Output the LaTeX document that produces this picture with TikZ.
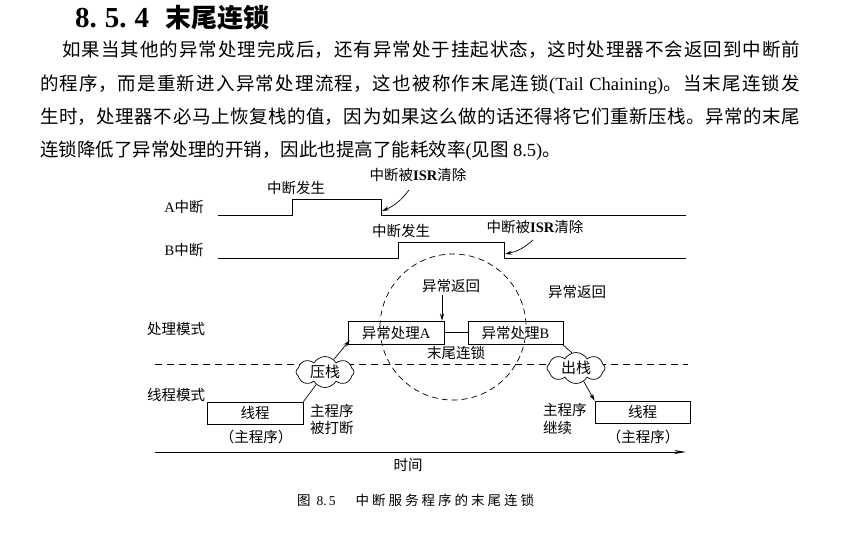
\documentclass[tikz,border=0pt]{standalone}
\usepackage{fontspec}
\setmainfont{Noto Sans CJK SC}
\newfontfamily\lat{Liberation Serif}
\usetikzlibrary{shapes.symbols,arrows.meta}
\tikzset{
  lbl/.style={inner sep=0pt,font=\fontsize{14.5}{17.5}\selectfont},
  sig/.style={line width=0.8pt},
  procbox/.style={draw,line width=0.8pt,minimum height=23pt,inner sep=0pt,font=\fontsize{14.5}{17.5}\selectfont},
  puff/.style={draw,fill=white,cloud,cloud puffs=8,cloud puff arc=120,aspect=1.9,minimum width=58pt,minimum height=31pt,inner sep=0pt,line width=0.7pt,font=\fontsize{15}{18}\selectfont},
  tip/.style={-{Stealth[length=7pt,width=4pt]}},
  conn/.style={line width=0.7pt},
}
\begin{document}
\begin{tikzpicture}[x=1pt,y=-1pt]
\useasboundingbox[fill=white] (0,0) rectangle (845,542);
% heading
\node[anchor=west,inner sep=0pt] (hnum) at (75,18) {\fontsize{29}{32}\selectfont\lat\bfseries 8.\kern8pt 5.\kern8pt 4};
\node[anchor=west,inner sep=0pt] (htitle) at (165,18) {\fontsize{26}{30}\selectfont\bfseries 末尾连锁};
% paragraph
\node[anchor=north west,inner sep=0pt] (para) at (40,41) {\parbox{760pt}{\fontsize{18.5}{33.3}\selectfont
\XeTeXlinebreaklocale "zh"\XeTeXlinebreakskip=0pt plus 3pt minus 0.4pt
\hspace*{22pt}如果当其他的异常处理完成后，还有异常处于挂起状态，这时处理器不会返回到中断前\linebreak
的程序，而是重新进入异常处理流程，这也被称作末尾连锁{\lat (Tail Chaining)}。当末尾连锁发\linebreak
生时，处理器不必马上恢复栈的值，因为如果这么做的话还得将它们重新压栈。异常的末尾\linebreak
连锁降低了异常处理的开销，因此也提高了能耗效率{\lat (}见图 {\lat 8.5)}。}};
% signal A
\coordinate (a0) at (218,215); \coordinate (a1) at (292,215); \coordinate (a2) at (292,199);
\coordinate (a3) at (381,199); \coordinate (a4) at (381,215); \coordinate (a5) at (686,215);
\draw[sig] (a0)--(a1)--(a2)--(a3)--(a4)--(a5);
\node[lbl] (labA) at (184,207) {{\lat A}中断};
\node[lbl] (occA) at (296,188) {中断发生};
\node[lbl] (clrA) at (418,175) {中断被{\lat\bfseries ISR}清除};
\coordinate (arrAs) at (409,190);
\draw[conn,tip] (arrAs) to[bend left=15] ([xshift=1pt,yshift=4pt]a4);
% signal B
\coordinate (b0) at (218,258); \coordinate (b1) at (398,258); \coordinate (b2) at (398,242);
\coordinate (b3) at (504,242); \coordinate (b4) at (504,258); \coordinate (b5) at (686,258);
\draw[sig] (b0)--(b1)--(b2)--(b3)--(b4)--(b5);
\node[lbl] (labB) at (184,250) {{\lat B}中断};
\node[lbl] (occB) at (401,231) {中断发生};
\node[lbl] (clrB) at (535,227) {中断被{\lat\bfseries ISR}清除};
\coordinate (arrBs) at (533,240);
\draw[conn,tip] (arrBs) to[bend left=15] ([xshift=1pt,yshift=4pt]b4);
% dashed circle
\draw[dashed,dash pattern=on 6pt off 4pt,line width=0.7pt] (453,327) circle[radius=73];
% mode labels
\node[lbl] (pmode) at (176,329) {处理模式};
\node[lbl] (tmode) at (176,395) {线程模式};
\draw[dashed,dash pattern=on 7pt off 5pt,line width=0.7pt] (155,364) -- (688,364);
% handler boxes
\node[procbox,minimum width=96pt] (hA) at (396,332.5) {异常处理{\lat A}};
\node[procbox,minimum width=95pt] (hB) at (515.5,332.5) {异常处理{\lat B}};
\draw[conn] (hA.east) -- (hB.west);
\node[lbl] (retin) at (451,286) {异常返回};
\node[lbl] (retout) at (577,292) {异常返回};
\node[lbl] (tail) at (456,353) {末尾连锁};
\coordinate (retinT) at (442,295);
\draw[conn,tip] (retinT) -- (retinT |- hA.north);
% clouds
\node[puff] (push) at (325,372) {压栈};
\node[puff] (pop) at (576,368) {出栈};
% thread boxes
\node[procbox,minimum width=96pt,minimum height=22pt] (thL) at (255,413) {线程};
\node[lbl] (mainL) at (256,437) {（主程序）};
\node[procbox,minimum width=95pt,minimum height=22pt] (thR) at (642.5,412) {线程};
\node[lbl] (mainR) at (643,437) {（主程序）};
\node[lbl,anchor=west,align=left] (intr) at (310,419.5) {主程序\\被打断};
\node[lbl,anchor=west,align=left] (cont) at (543,419) {主程序\\继续};
% connectors
\draw[conn] (thL.north east) -- (push.235);
\draw[conn,tip] (push.55) -- ([xshift=2pt,yshift=4pt]hA.south west);
\draw[conn] ([xshift=-1pt]hB.south east) -- (pop.105);
\draw[conn,tip] (pop.300) -- (thR.north west);
% time axis
\coordinate (t0) at (155,452); \coordinate (t1) at (686,452);
\draw[line width=0.8pt,-{Stealth[length=12pt,width=4pt]}] (t0) -- (t1);
\node[lbl] (time) at (408,465) {时间};
% caption
\node[anchor=west,inner sep=0pt] (cap) at (297,500) {\fontsize{13.5}{16}\selectfont 图\kern6pt{\lat 8.\kern2pt 5}\kern20pt 中\kern3pt 断\kern3pt 服\kern3pt 务\kern3pt 程\kern3pt 序\kern3pt 的\kern3pt 末\kern3pt 尾\kern3pt 连\kern3pt 锁};
\end{tikzpicture}
\end{document}
